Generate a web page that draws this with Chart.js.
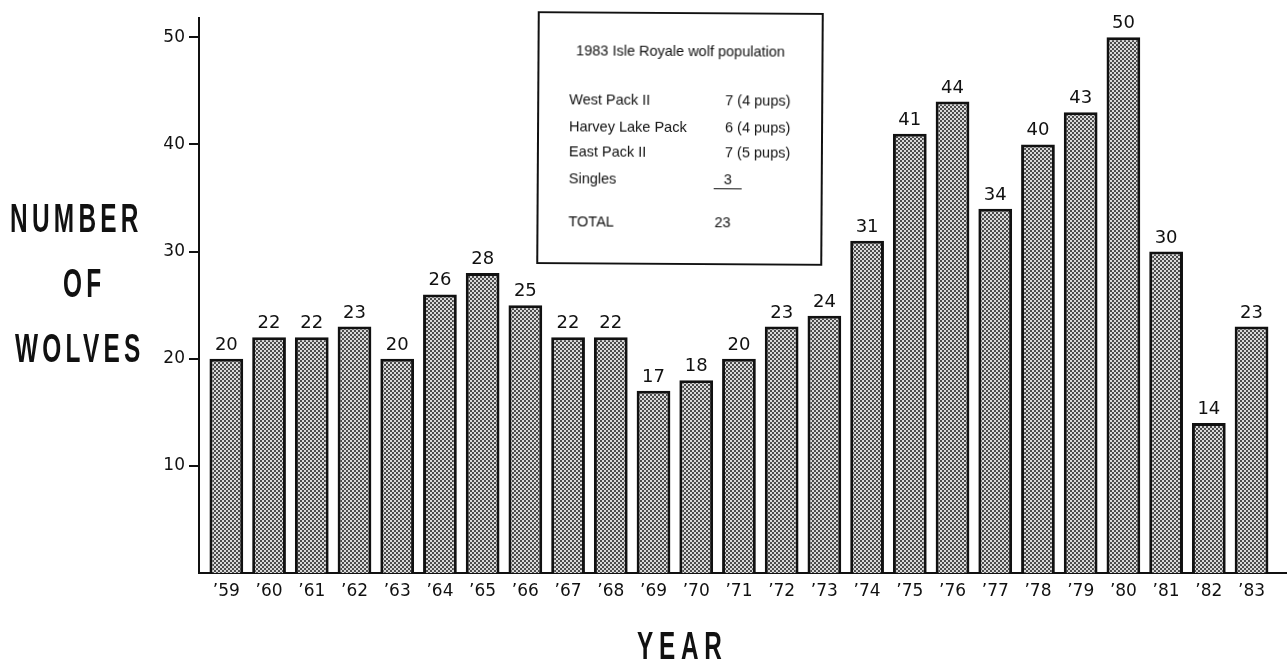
<!DOCTYPE html>
<html>
<head>
<meta charset="utf-8">
<script src="https://cdn.jsdelivr.net/npm/chart.js@4/dist/chart.umd.min.js"></script>
<style>
  html, body { margin: 0; padding: 0; background: #fff; }
  #wrap { position: relative; width: 1287px; height: 663px; overflow: hidden; }
  #wrap canvas { position: absolute; left: 0; top: 0; }
  .axt { position: absolute; font-family: "Liberation Sans", Arial, sans-serif;
         font-weight: bold; color: #111; font-size: 40px; line-height: 40px; white-space: nowrap;
         letter-spacing: 7px; transform-origin: left top; transform: scaleX(0.61); }
  #inset { position: absolute; left: 537px; top: 12px; width: 282px; height: 249px;
           border: 2px solid #111; background: #fff; transform: rotate(0.35deg);
           transform-origin: center; font-family: "Liberation Sans", Arial, sans-serif;
           font-size: 14.5px; color: #111; }
  #inset div { position: absolute; line-height: 16px; white-space: nowrap; }
</style>
</head>
<body>
<div id="wrap">
  <canvas id="c" width="1287" height="663"></canvas>
  <div class="axt" style="left:10px; top:198px;">NUMBER</div>
  <div class="axt" style="left:63px; top:263px;">OF</div>
  <div class="axt" style="left:15px; top:328px;">WOLVES</div>
  <div class="axt" style="left:637px; top:627px; font-size:38px; line-height:38px; letter-spacing:9px; transform:scaleX(0.64);">YEAR</div>
  <div id="inset">
    <div style="left:0; width:282px; text-align:center; top:29px;">1983 Isle Royale wolf population</div>
    <div style="left:30px; top:78px;">West Pack II</div>
    <div style="left:186px; top:78px;">7 (4 pups)</div>
    <div style="left:30px; top:105px;">Harvey Lake Pack</div>
    <div style="left:186px; top:105px;">6 (4 pups)</div>
    <div style="left:30px; top:130px;">East Pack II</div>
    <div style="left:186px; top:130px;">7 (5 pups)</div>
    <div style="left:30px; top:157px;">Singles</div>
    <div style="left:185px; top:157px;">3</div>
    <div style="left:175px; top:174px; width:28px; height:0; border-top:1.5px solid #111;"></div>
    <div style="left:30px; top:200px;">TOTAL</div>
    <div style="left:176px; top:200px;">23</div>
  </div>
</div>
<script>
// ---- data ----
const years = [59,60,61,62,63,64,65,66,67,68,69,70,71,72,73,74,75,76,77,78,79,80,81,82,83];
const wolves = [20,22,22,23,20,26,28,25,22,22,17,18,20,23,24,31,41,44,34,40,43,50,30,14,23];
const yTicks = [10,20,30,40,50];

// dotted fill pattern
function makePattern() {
  const p = document.createElement('canvas');
  p.width = 4; p.height = 4;
  const g = p.getContext('2d');
  g.fillStyle = '#d9d9d9';
  g.fillRect(0, 0, 4, 4);
  g.fillStyle = '#111';
  g.beginPath(); g.arc(1, 1, 0.95, 0, Math.PI * 2); g.fill();
  g.beginPath(); g.arc(3, 3, 0.95, 0, Math.PI * 2); g.fill();
  return document.getElementById('c').getContext('2d').createPattern(p, 'repeat');
}

const valueLabels = {
  id: 'valueLabels',
  afterDatasetsDraw(chart) {
    const ctx = chart.ctx;
    const meta = chart.getDatasetMeta(0);
    ctx.save();
    ctx.font = '18px "DejaVu Sans", sans-serif';
    ctx.fillStyle = '#111';
    ctx.textAlign = 'center';
    ctx.textBaseline = 'alphabetic';
    meta.data.forEach((bar, i) => {
      ctx.fillText(String(wolves[i]), bar.x, bar.y - 9);
    });
    ctx.restore();
  }
};

new Chart(document.getElementById('c'), {
  type: 'bar',
  data: {
    datasets: [{
      data: years.map((y, i) => ({ x: y, y: wolves[i] })),
      backgroundColor: makePattern(),
      borderColor: '#111',
      borderWidth: 3,
      categoryPercentage: 1,
      barPercentage: 0.79
    }]
  },
  options: {
    responsive: false,
    animation: false,
    layout: { padding: { top: 18, right: 0, left: 0, bottom: 0 } },
    plugins: { legend: { display: false }, tooltip: { enabled: false } },
    scales: {
      x: {
        type: 'linear',
        offset: false,
        min: 58.36,
        max: 83.83,
        afterFit(s) { s.height = 90; s.paddingLeft = 0; s.paddingRight = 0; },
        grid: { display: false, drawTicks: false, offset: false },
        border: { display: true, color: '#111', width: 2 },
        ticks: {
          stepSize: 1,
          includeBounds: false,
          autoSkip: false,
          maxRotation: 0,
          padding: 8,
          color: '#111',
          font: { family: '"DejaVu Sans", sans-serif', size: 17 },
          callback: v => '\u2019' + v
        }
      },
      y: {
        min: 0,
        max: 51.8,
        afterFit(s) { s.width = 199; s.paddingTop = 0; s.paddingBottom = 0; },
        afterBuildTicks(s) { s.ticks = yTicks.map(v => ({ value: v })); },
        grid: { drawOnChartArea: false, drawTicks: true, tickLength: 10, color: '#111', lineWidth: 2 },
        border: { display: true, color: '#111', width: 2 },
        ticks: {
          padding: 4,
          color: '#111',
          font: { family: '"DejaVu Sans", sans-serif', size: 17 }
        }
      }
    }
  },
  plugins: [valueLabels]
});
</script>
</body>
</html>
